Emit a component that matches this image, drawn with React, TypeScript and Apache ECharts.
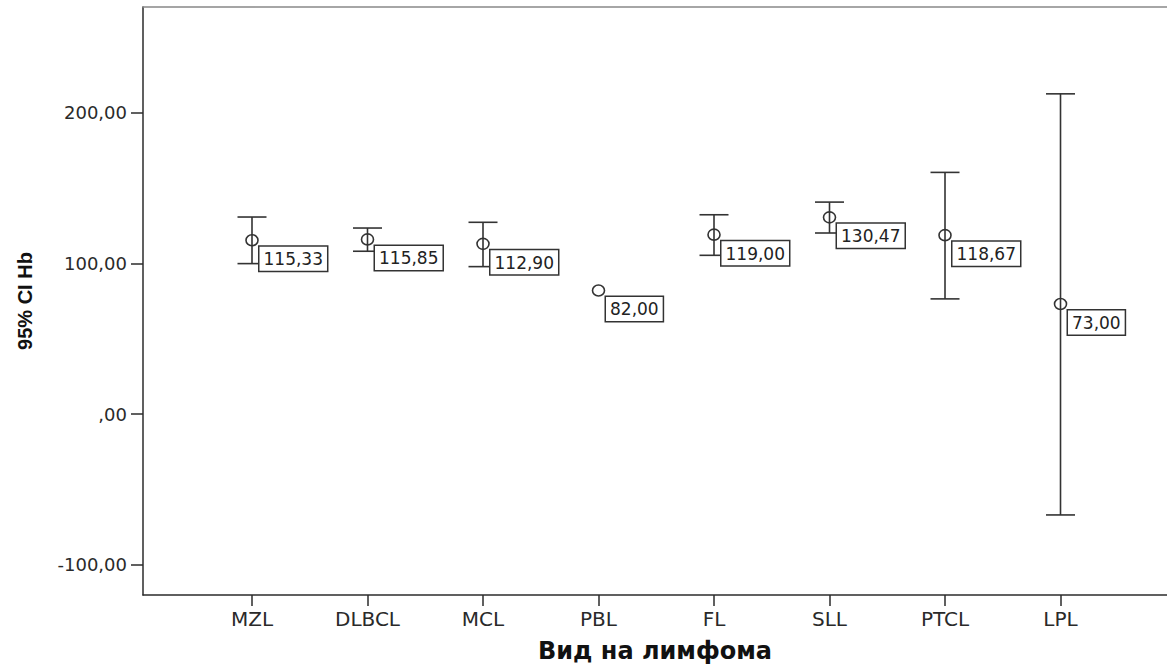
import React, { useEffect, useRef } from "react";
import * as echarts from "echarts";

const categories = ["MZL", "DLBCL", "MCL", "PBL", "FL", "SLL", "PTCL", "LPL"];
const means = [115.33, 115.85, 112.9, 82.0, 119.0, 130.47, 118.67, 73.0];
const lowerCI: (number | null)[] = [99.8, 108.0, 97.8, null, 105.3, 120.1, 76.4, -66.9];
const upperCI: (number | null)[] = [130.7, 123.4, 127.2, null, 132.2, 140.6, 160.3, 212.4];
const yTicks = [-100, 0, 100, 200];
const yTickLabels = ["-100,00", ",00", "100,00", "200,00"];

const fmt = (v: number) => v.toFixed(2).replace(".", ",");

export default function App() {
  const ref = useRef<HTMLDivElement>(null);
  useEffect(() => {
    if (!ref.current) return;
    const chart = echarts.init(ref.current, null, { renderer: "svg" });
    const lineColor = "#2b2b2b";
    const font = "DejaVu Sans";
    chart.setOption({
      animation: false,
      backgroundColor: "#ffffff",
      grid: { left: 143, right: 0, top: 7, bottom: 73, containLabel: false },
      xAxis: [
        {
          type: "value",
          min: -0.9437,
          max: 7.922,
          position: "bottom",
          name: "Вид на лимфома",
          nameLocation: "middle",
          nameGap: 44,
          nameTextStyle: { fontFamily: font, fontWeight: "bold", fontSize: 24, color: "#111" },
          axisLine: { show: true, onZero: false, lineStyle: { color: lineColor, width: 1.5 } },
          axisTick: { show: true, customValues: [0, 1, 2, 3, 4, 5, 6, 7], length: 11, lineStyle: { color: lineColor, width: 1.5 } },
          axisLabel: {
            customValues: [0, 1, 2, 3, 4, 5, 6, 7],
            formatter: (v: number) => categories[Math.round(v)] ?? "",
            fontFamily: font,
            fontSize: 20,
            color: "#2a2a2a",
            margin: 14,
          },
          splitLine: { show: false },
        },
        {
          type: "value",
          min: -0.9437,
          max: 7.922,
          position: "top",
          axisLine: { show: true, onZero: false, lineStyle: { color: "#888", width: 1.5 } },
          axisTick: { show: false },
          axisLabel: { show: false },
          splitLine: { show: false },
        },
      ],
      yAxis: {
        type: "value",
        min: -120,
        max: 270,
        name: "95% CI Hb",
        nameLocation: "middle",
        nameGap: 108,
        nameTextStyle: { fontFamily: "Liberation Sans", fontWeight: "bold", fontSize: 20, color: "#111" },
        axisLine: { show: true, onZero: false, lineStyle: { color: lineColor, width: 1.5 } },
        axisTick: { show: true, customValues: yTicks, length: 12, lineStyle: { color: lineColor, width: 1.5 } },
        axisLabel: {
          customValues: yTicks,
          formatter: (v: number) => yTickLabels[yTicks.indexOf(v)] ?? fmt(v),
          fontFamily: font,
          fontSize: 18,
          color: "#2a2a2a",
          margin: 16,
        },
        splitLine: { show: false },
      },
      series: [
        {
          type: "custom",
          xAxisIndex: 0,
          yAxisIndex: 0,
          clip: false,
          data: categories.map((c, i) => [i, means[i], lowerCI[i] ?? means[i], upperCI[i] ?? means[i]]),
          renderItem: (params: any, api: any) => {
            const i = params.dataIndex;
            const x = api.value(0);
            const m = api.coord([x, api.value(1)]);
            const children: any[] = [];
            const stroke = { stroke: "#333", lineWidth: 1.6 };
            if (lowerCI[i] != null && upperCI[i] != null) {
              const lo = api.coord([x, lowerCI[i]]);
              const hi = api.coord([x, upperCI[i]]);
              const hw = 14.5;
              children.push({ type: "line", shape: { x1: lo[0], y1: lo[1], x2: hi[0], y2: hi[1] }, style: stroke });
              children.push({ type: "line", shape: { x1: lo[0] - hw, y1: lo[1], x2: lo[0] + hw, y2: lo[1] }, style: stroke });
              children.push({ type: "line", shape: { x1: hi[0] - hw, y1: hi[1], x2: hi[0] + hw, y2: hi[1] }, style: stroke });
            }
            children.push({
              type: "ellipse",
              shape: { cx: m[0], cy: m[1], rx: 6, ry: 5.5 },
              style: { fill: "none", stroke: "#333", lineWidth: 1.6 },
            });
            children.push({
              type: "text",
              x: m[0] + 7.5,
              y: m[1] + 6.5,
              style: {
                text: fmt(means[i]),
                fontFamily: font,
                fontSize: 17,
                fill: "#222",
                align: "left",
                verticalAlign: "top",
                backgroundColor: "#fff",
                borderColor: "#333",
                borderWidth: 1.5,
                padding: [3, 4, 2, 4],
                lineHeight: 19,
              },
            });
            return { type: "group", children };
          },
        },
      ],
    });
    return () => chart.dispose();
  }, []);
  return (
    <div
      ref={ref}
      style={{ position: "absolute", left: 0, top: 0, width: 1167, height: 668, background: "#fff" }}
    />
  );
}
